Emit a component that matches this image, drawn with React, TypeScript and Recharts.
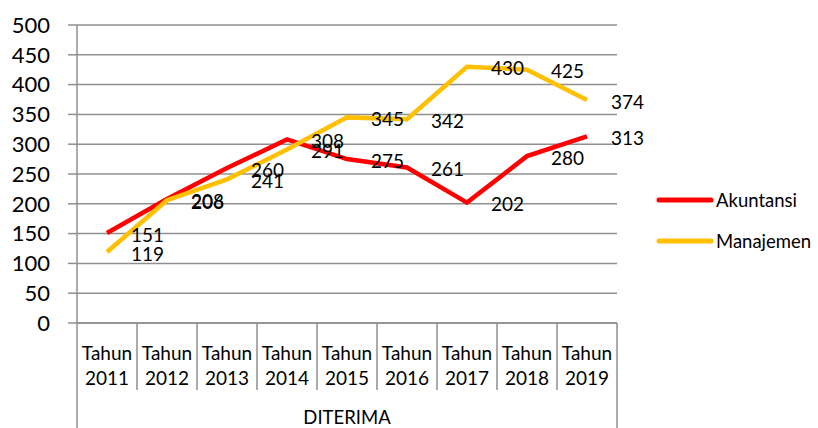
import React from 'react';
import { LineChart, Line, XAxis, YAxis, CartesianGrid, LabelList } from 'recharts';

const categories = ['2011', '2012', '2013', '2014', '2015', '2016', '2017', '2018', '2019'];
const akuntansi = [151, 208, 260, 308, 275, 261, 202, 280, 313];
const manajemen = [119, 206, 241, 291, 345, 342, 430, 425, 374];
const yTicks = [0, 50, 100, 150, 200, 250, 300, 350, 400, 450, 500];
const groupLabel = 'DITERIMA';
const seriesNames = ['Akuntansi', 'Manajemen'];
const colors = ['#FF0000', '#FFC000'];

const data = categories.map((c, i) => ({ year: c, Akuntansi: akuntansi[i], Manajemen: manajemen[i] }));

const FONT = 'Lato, "Open Sans", sans-serif';
const GRID = '#8f8f8f';
const HALF = 30;

const CatTick = (props: any) => {
  const { x, y, payload, index } = props;
  const last = index === categories.length - 1;
  return (
    <g>
      <line x1={x - HALF} x2={x - HALF} y1={y} y2={index === 0 ? y + 105 : y + 67} stroke={GRID} strokeWidth={1.5} />
      {last && <line x1={x + HALF} x2={x + HALF} y1={y} y2={y + 105} stroke={GRID} strokeWidth={1.5} />}
      <text x={x} y={y + 29} textAnchor="middle" dominantBaseline="central" fontSize={19} fontFamily={FONT} fill="#000">Tahun</text>
      <text x={x} y={y + 54} textAnchor="middle" dominantBaseline="central" fontSize={19} fontFamily={FONT} fill="#000">{payload.value}</text>
    </g>
  );
};

const ValueLabel = (props: any) => {
  const { x, y, value } = props;
  return (
    <text x={x + 24} y={y + 1} dominantBaseline="central" fontSize={19} fontFamily={FONT} fill="#000">{value}</text>
  );
};

const LegendBox = () => (
  <svg width={170} height={70} style={{ position: 'absolute', left: 656, top: 188 }}>
    {seriesNames.map((n, i) => (
      <g key={n}>
        <line x1={3} x2={55} y1={12 + i * 41} y2={12 + i * 41} stroke={colors[i]} strokeWidth={5} strokeLinecap="round" />
        <text x={60} y={12 + i * 41} dominantBaseline="central" fontSize={18.5} fontFamily={FONT} fill="#000">{n}</text>
      </g>
    ))}
  </svg>
);

export default function App() {
  return (
    <div style={{ width: 818, height: 428, background: '#fff', position: 'relative' }}>
      <style>{`body{margin:0}`}</style>
      <LineChart width={818} height={428} data={data} margin={{ top: 25, right: 201, bottom: 0, left: 0 }}>
        <CartesianGrid vertical={false} stroke={GRID} strokeWidth={1.5} />
        <XAxis
          dataKey="year"
          height={105}
          padding={{ left: HALF, right: HALF }}
          tickLine={false}
          tickSize={0}
          tickMargin={0}
          axisLine={{ stroke: GRID, strokeWidth: 1.5 }}
          tick={<CatTick />}
          interval={0}
          label={{
            content: (p: any) => {
              const vb = p.viewBox;
              return (
                <text x={vb.x + vb.width / 2} y={vb.y + 94} textAnchor="middle" dominantBaseline="central" fontSize={18.5} fontFamily={FONT} fill="#000">{groupLabel}</text>
              );
            },
          }}
        />
        <YAxis
          width={77}
          domain={[0, 500]}
          ticks={yTicks}
          interval={0}
          tickSize={9}
          tickMargin={18}
          tickLine={{ stroke: GRID, strokeWidth: 1.5 }}
          axisLine={{ stroke: GRID, strokeWidth: 1.5 }}
          tick={{ fontSize: 22, fontFamily: FONT, fill: '#000' }}
        />
        <Line dataKey="Akuntansi" stroke={colors[0]} strokeWidth={4.5} dot={false} isAnimationActive={false}>
          <LabelList dataKey="Akuntansi" content={<ValueLabel />} />
        </Line>
        <Line dataKey="Manajemen" stroke={colors[1]} strokeWidth={4.5} dot={false} isAnimationActive={false}>
          <LabelList dataKey="Manajemen" content={<ValueLabel />} />
        </Line>
      </LineChart>
      <LegendBox />
    </div>
  );
}
